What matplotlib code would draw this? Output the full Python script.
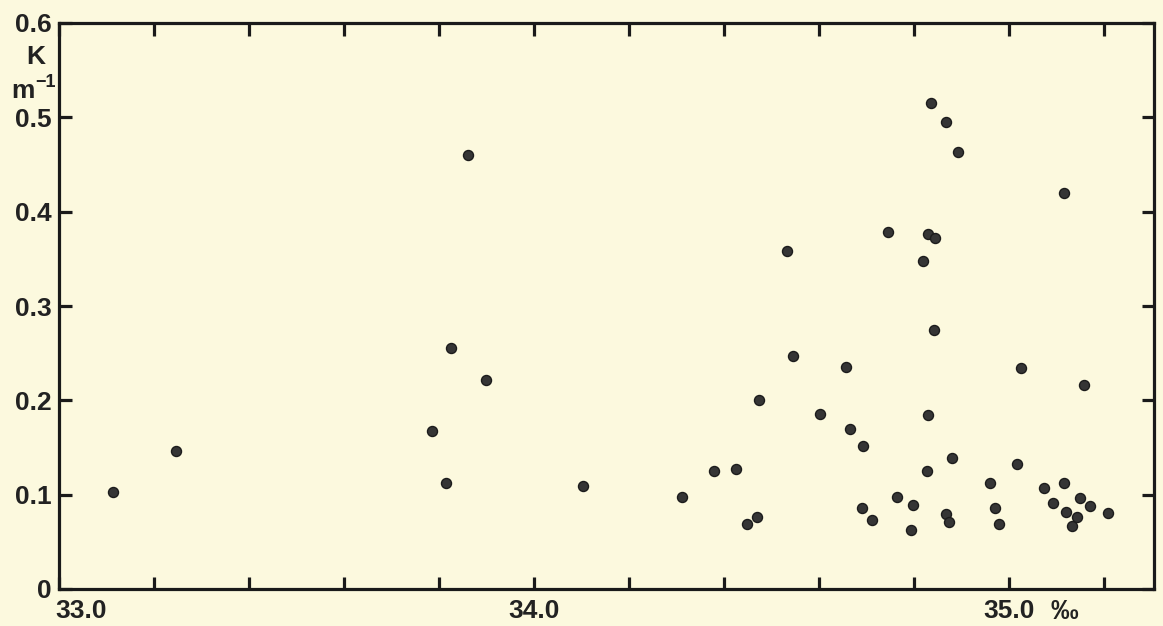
import matplotlib
matplotlib.use("Agg")
import matplotlib.pyplot as plt
from matplotlib.ticker import MultipleLocator

# salinity (per mille) and attenuation coefficient K (m^-1)
salinity = [33.114, 33.246, 33.785, 33.815, 33.825, 33.861, 33.899,
            34.103, 34.312, 34.379, 34.425, 34.448, 34.469, 34.474, 34.533,
            34.545, 34.602, 34.657, 34.665, 34.691, 34.693, 34.712, 34.745,
            34.764, 34.794, 34.798, 34.819, 34.827, 34.829, 34.829, 34.836,
            34.842, 34.844, 34.867, 34.867, 34.874, 34.880, 34.893,
            34.960, 34.971, 34.979, 35.017, 35.025, 35.074, 35.093, 35.116,
            35.116, 35.120, 35.133, 35.143, 35.149, 35.158, 35.171, 35.208]
k_values = [0.103, 0.146, 0.168, 0.112, 0.256, 0.460, 0.222,
            0.109, 0.097, 0.125, 0.127, 0.069, 0.076, 0.200, 0.358,
            0.247, 0.185, 0.235, 0.170, 0.086, 0.152, 0.073, 0.378,
            0.098, 0.063, 0.089, 0.348, 0.125, 0.184, 0.376, 0.515,
            0.275, 0.372, 0.495, 0.080, 0.071, 0.139, 0.463,
            0.112, 0.086, 0.069, 0.133, 0.234, 0.107, 0.091, 0.420,
            0.112, 0.082, 0.067, 0.076, 0.096, 0.216, 0.088, 0.081]

x_labels = {33.0: "33.0", 34.0: "34.0", 35.0: "35.0"}
y_ticks = [0, 0.1, 0.2, 0.3, 0.4, 0.5, 0.6]
y_tick_labels = ["0", "0.1", "0.2", "0.3", "0.4", "0.5", "0.6"]

bg = "#fcf9de"
ink = "#222222"
font = ["Liberation Sans", "DejaVu Sans"]
fs = 19
W, H = 1163, 626

fig = plt.figure(figsize=(11.63, 6.26), dpi=100, facecolor=bg)
ax = fig.add_axes([59 / W, 37 / H, (1154 - 59) / W, (589 - 23) / H])
ax.set_facecolor(bg)

ax.scatter(salinity, k_values, s=52, color="#353535", edgecolors="#1c1c1c",
           linewidths=1.0, zorder=3)

ax.set_xlim(33.0, 35.305)
ax.set_ylim(0, 0.6)

for sp in ax.spines.values():
    sp.set_linewidth(2.3)
    sp.set_color("#1a1a1a")

ax.xaxis.set_major_locator(MultipleLocator(0.2))
ax.set_yticks(y_ticks)
ax.set_yticklabels(y_tick_labels, fontfamily=font, fontsize=fs, fontweight="bold",
                   color=ink)
ax.set_xticklabels([])
ax.tick_params(axis="both", direction="in", length=9, width=2.3, color="#1a1a1a",
               top=True, right=True, pad=5)

for xv, lab in x_labels.items():
    ha = "left" if xv == 33.0 else "center"
    dx = -0.008 if xv == 33.0 else 0.0
    ax.text(xv + dx, -0.011, lab, ha=ha, va="top", fontsize=fs, fontweight="bold",
            fontfamily=font, color=ink)
ax.text(35.117, -0.011, "‰", ha="center", va="top", fontsize=fs + 1,
        fontweight="bold", fontfamily=font, color=ink)

# y-axis unit label (placed in figure pixels)
def ftext(px, py, s, **kw):
    fig.text(px / W, 1 - py / H, s, fontweight="bold", fontfamily=font,
             color=ink, **kw)

ftext(36, 57, "K", ha="center", va="center", fontsize=fs)
ftext(35, 98, "m", ha="right", va="baseline", fontsize=fs)
ftext(35, 87, "−1", ha="left", va="baseline", fontsize=13)

fig.savefig("out.png", dpi=100, facecolor=bg)
